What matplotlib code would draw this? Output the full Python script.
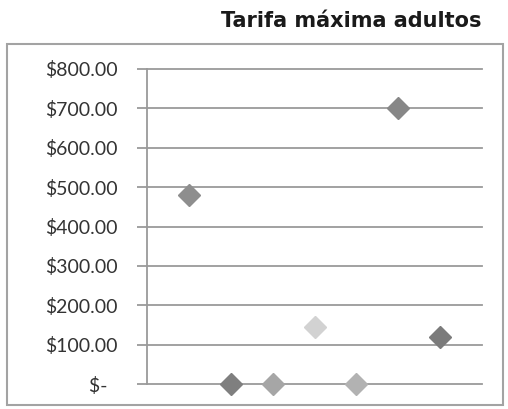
import matplotlib
matplotlib.use("Agg")
import matplotlib.pyplot as plt
from matplotlib.patches import Rectangle
from matplotlib.ticker import FixedLocator

# Maximum adult fare per item
positions = [1, 2, 3, 4, 5, 6, 7]
fares = [480, 0, 0, 145, 0, 700, 120]
marker_colors = ["#8e8e8e", "#7f7f7f", "#a6a6a6", "#d2d2d2", "#b2b2b2", "#878787", "#7b7b7b"]
y_ticks = [0, 100, 200, 300, 400, 500, 600, 700, 800]
y_labels = ["$-  ", "$100.00", "$200.00", "$300.00", "$400.00",
            "$500.00", "$600.00", "$700.00", "$800.00"]
title = "Tarifa máxima adultos"

W, H = 508, 409
fig = plt.figure(figsize=(W / 100, H / 100), dpi=100)
fig.patch.set_facecolor("white")

# chart frame
fig.patches.append(Rectangle((7 / W, 1 - 405 / H), (503 - 7) / W, (405 - 44) / H,
                             transform=fig.transFigure, fill=False,
                             edgecolor="#a3a3a3", linewidth=1.5))

ax = fig.add_axes([147 / W, 1 - 384 / H, (482 - 147) / W, (384 - 69) / H])
ax.set_xlim(0, 8)
ax.set_ylim(0, 800)

grid_color = "#9a9a9a"
for v in y_ticks:
    ax.axhline(v, color=grid_color, linewidth=1.3, zorder=1, clip_on=False)

for s in ["top", "right", "bottom"]:
    ax.spines[s].set_visible(False)
ax.spines["left"].set_color(grid_color)
ax.spines["left"].set_linewidth(1.3)

ax.yaxis.set_major_locator(FixedLocator(y_ticks))
ax.set_yticklabels(y_labels, fontsize=14, fontfamily="Lato", color="#333333")
ax.tick_params(axis="y", length=7, width=1.3, color=grid_color, pad=14)
ax.set_xticks([])

for x, v, c in zip(positions, fares, marker_colors):
    ax.plot([x], [v], marker="D", markersize=11.5, color=c,
            markeredgecolor=c, linestyle="none", zorder=3, clip_on=False)

fig.text(351 / W, 1 - 21 / H, title, ha="center", va="center",
         fontsize=15, fontweight="bold", fontfamily="DejaVu Sans", color="#1a1a1a")

fig.savefig("out.png", dpi=100, facecolor="white")
